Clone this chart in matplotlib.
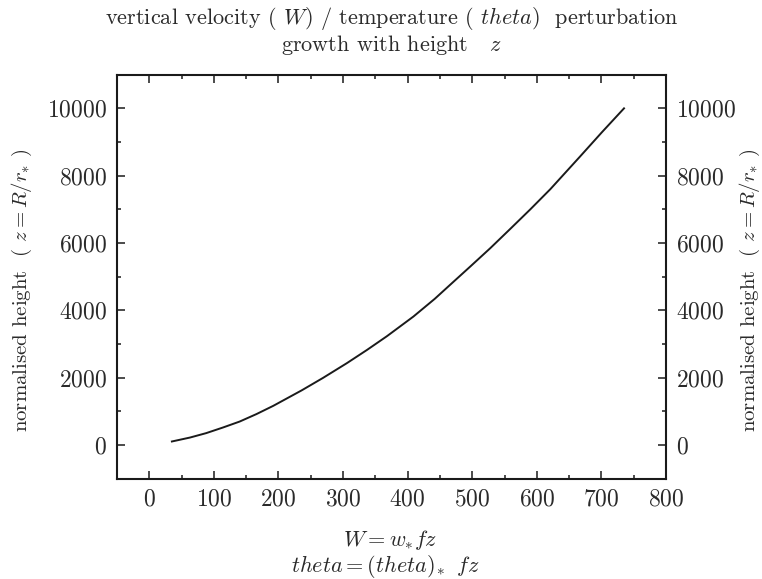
import matplotlib
matplotlib.use('Agg')
import matplotlib.pyplot as plt
from matplotlib.ticker import MultipleLocator

# data
W_vals = [35, 63, 88, 114, 140, 166, 192, 236, 269, 306, 337, 368, 409,
          442, 466, 497, 528, 559, 590, 621, 667, 701, 735]
z_vals = [100, 217, 348, 515, 693, 915, 1160, 1620, 1990, 2429, 2820, 3230, 3814,
          4340, 4760, 5300, 5846, 6420, 7000, 7600, 8570, 9295, 10000]

title_lines = ["vertical velocity ( $W$) / temperature ( $theta$)  perturbation",
               "growth with height   $z$"]
xlabel_lines = ["$W = w_{*}fz$", "$theta = (theta)_{*}\\;\\;fz$"]
ylabel = "normalised height  ( $z = R/r_{*}$ )"

plt.rcParams.update({
    'font.family': 'cmr10',
    'mathtext.fontset': 'cm',
    'axes.formatter.use_mathtext': True,
    'axes.unicode_minus': False,
})

TXT = '#2a2a2a'
fig = plt.figure(figsize=(7.62, 5.79), dpi=100)
ax = fig.add_axes([117/762, 1 - 478.5/579, (666-117)/762, (478.5-74.7)/579])
ax.plot(W_vals, z_vals, color='#1a1a1a', lw=1.4)
ax.set_xlim(-50, 800)
ax.set_ylim(-1000, 11000)
ax.xaxis.set_major_locator(MultipleLocator(100))
ax.xaxis.set_minor_locator(MultipleLocator(50))
ax.yaxis.set_major_locator(MultipleLocator(2000))
ax.yaxis.set_minor_locator(MultipleLocator(1000))
ax.tick_params(which='both', direction='in', top=True, right=True,
               labelright=True, labelsize=17, pad=7, width=1.1,
               color='#1a1a1a', labelcolor=TXT)
ax.tick_params(which='major', length=5.5)
ax.tick_params(which='minor', length=3)
for s in ax.spines.values():
    s.set_linewidth(1.5)
    s.set_color('#1a1a1a')

cx = 0.5 * (117 + 666) / 762
fig.text(cx, 1 - 18/579, title_lines[0], ha='center', va='center', fontsize=16, color=TXT)
fig.text(cx, 1 - 45/579, title_lines[1], ha='center', va='center', fontsize=16, color=TXT)
fig.text(390/762, 1 - 540/579, xlabel_lines[0], ha='center', va='center', fontsize=16, color=TXT)
fig.text(385/762, 1 - 567/579, xlabel_lines[1], ha='center', va='center', fontsize=16, color=TXT)
fig.text(22/762, 1 - 290/579, ylabel, rotation=90, ha='center', va='center', fontsize=15, color=TXT)
fig.text(750/762, 1 - 290/579, ylabel, rotation=90, ha='center', va='center', fontsize=15, color=TXT)

fig.savefig('out.png', dpi=100)
